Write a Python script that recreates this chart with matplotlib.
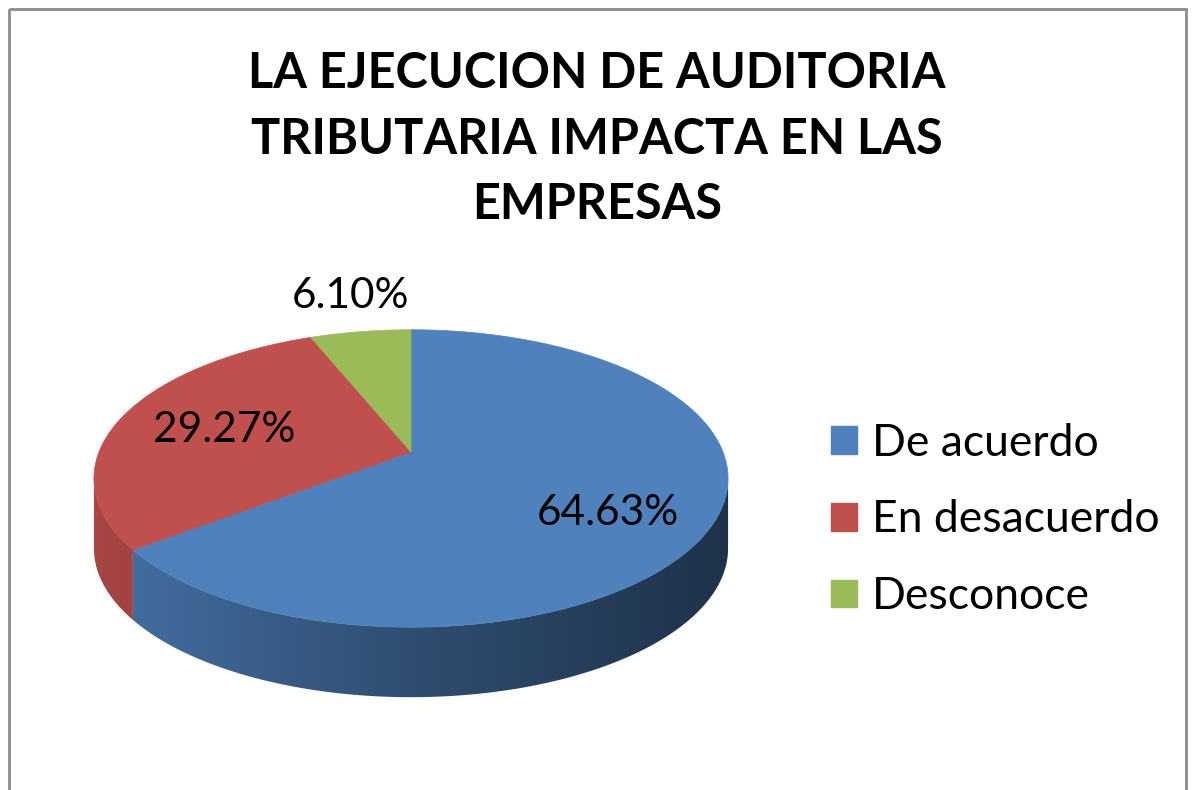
import numpy as np
import matplotlib.pyplot as plt
from matplotlib.patches import Polygon, Rectangle, Patch
from matplotlib.colors import to_rgb

categorias = ['De acuerdo', 'En desacuerdo', 'Desconoce']
porcentajes = [64.63, 29.27, 6.10]
etiquetas = ['64.63%', '29.27%', '6.10%']
colores = ['#4f81bd', '#c0504d', '#9bbb59']
titulo = 'LA EJECUCION DE AUDITORIA\nTRIBUTARIA IMPACTA EN LAS\nEMPRESAS'

plt.rcParams['font.family'] = ['Lato', 'DejaVu Sans']

W, H = 1195, 790
fig = plt.figure(figsize=(W / 100, H / 100), dpi=100)
ax = fig.add_axes([0, 0, 1, 1])

# marco del grafico
ax.add_patch(Rectangle((9, 9), 1177, 800, fill=False, edgecolor='#8c8c8c', lw=2))

# geometria del pastel 3D (pixeles), con un poco de perspectiva
cx, cy = 411, 452
R, A, k = 312, 144, 0.178
prof = 70


def borde(theta, dz=0, frac=1.0):
    # theta en grados, sentido horario desde arriba
    t = np.radians(theta)
    d = 1 + k * np.cos(t)
    return cx + frac * R * np.sin(t) / d, cy - frac * A * np.cos(t) / d + dz


angulos = np.concatenate([[0], np.cumsum(porcentajes) / sum(porcentajes) * 360])
vis0 = np.degrees(np.arccos(-k))
vis1 = 360 - vis0

# paredes laterales (solo la parte de delante), con degradado horizontal
xg = np.linspace(90, 735, 400)
fac = np.interp(xg, [96, 411, 727], [0.87, 0.60, 0.39])
for i, col in enumerate(colores):
    a0 = max(angulos[i], vis0)
    a1 = min(angulos[i + 1], vis1)
    if a1 <= a0:
        continue
    ts = np.linspace(a0, a1, 200)
    xs, ys = borde(ts)
    pts = list(zip(xs, ys)) + list(zip(xs[::-1], ys[::-1] + prof))
    pared = Polygon(pts, closed=True, facecolor='none', edgecolor='none')
    ax.add_patch(pared)
    img = np.array(to_rgb(col))[None, None, :] * fac[None, :, None]
    im = ax.imshow(img, extent=(90, 735, 720, 300), aspect='auto', interpolation='bilinear')
    im.set_clip_path(pared)

# cara superior
for i, col in enumerate(colores):
    ts = np.linspace(angulos[i], angulos[i + 1], 200)
    xs, ys = borde(ts)
    pts = [(cx, cy)] + list(zip(xs, ys))
    ax.add_patch(Polygon(pts, closed=True, facecolor=col, edgecolor=col, lw=0.5))

# etiquetas de datos
fracs = [0.65, 0.65, 1.2]
dzs = [16, 2, -12]
for i, txt in enumerate(etiquetas):
    mid = (angulos[i] + angulos[i + 1]) / 2
    x, y = borde(mid, dz=dzs[i], frac=fracs[i])
    ax.text(x, y, txt, ha='center', va='center', fontsize=30.5, color='black')

# titulo
ax.text(597, 139, titulo, ha='center', va='center', fontsize=35, fontweight='bold',
        linespacing=1.55, color='black')

# leyenda
handles = [Patch(facecolor=c, edgecolor=c, label=l) for c, l in zip(colores, categorias)]
ax.legend(handles=handles, loc='center left', bbox_to_anchor=(831, 520),
          bbox_transform=ax.transData, frameon=False, fontsize=32,
          handlelength=0.58, handleheight=0.58, handletextpad=0.35,
          labelspacing=0.8, borderpad=0, borderaxespad=0)

ax.set_xlim(0, W)
ax.set_ylim(H, 0)
ax.axis('off')

fig.savefig('out.png', dpi=100)
